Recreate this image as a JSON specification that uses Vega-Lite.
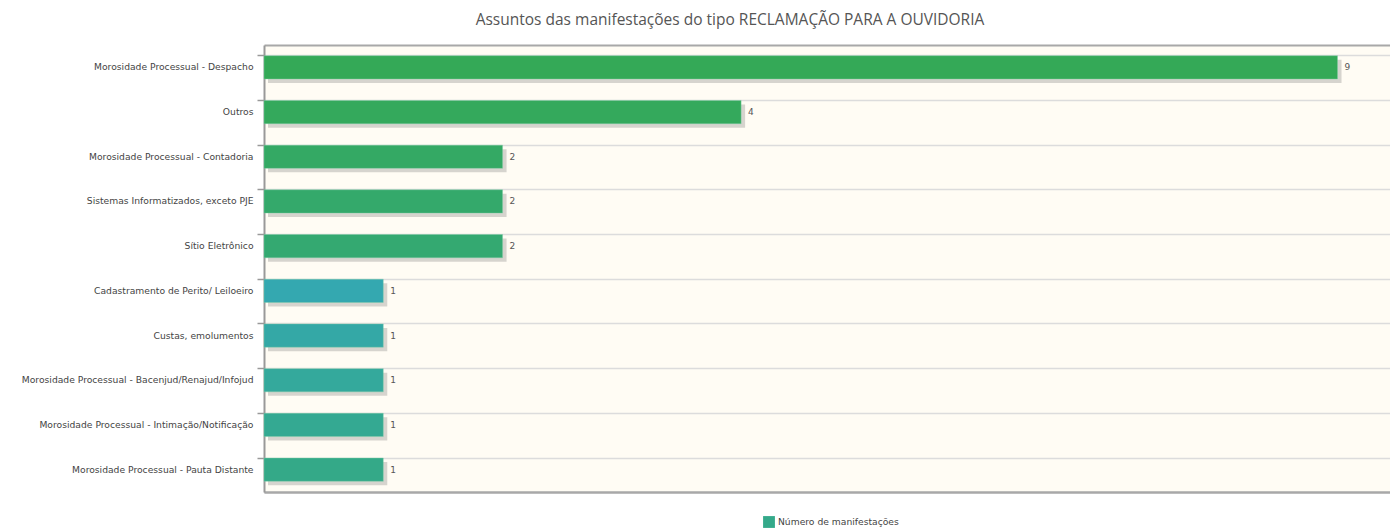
{
  "$schema": "https://vega.github.io/schema/vega-lite/v6.json",
  "autosize": {"type": "none"},
  "width": 1126,
  "height": 447,
  "padding": {"left": 264, "top": 45, "right": 0, "bottom": 37},
  "background": "#ffffff",
  "title": {
    "text": "Assuntos das manifestações do tipo RECLAMAÇÃO PARA A OUVIDORIA",
    "font": "Open Sans",
    "fontSize": 15.5,
    "fontWeight": "normal",
    "color": "#555555",
    "anchor": "middle",
    "dx": -97,
    "offset": 17
  },
  "config": {
    "view": {"fill": "#fffcf4", "stroke": null}
  },
  "data": {
    "values": [
      {"assunto": "Morosidade Processual - Despacho", "n": 9, "serie": "Número de manifestações"},
      {"assunto": "Outros", "n": 4, "serie": "Número de manifestações"},
      {"assunto": "Morosidade Processual - Contadoria", "n": 2, "serie": "Número de manifestações"},
      {"assunto": "Sistemas Informatizados, exceto PJE", "n": 2, "serie": "Número de manifestações"},
      {"assunto": "Sítio Eletrônico", "n": 2, "serie": "Número de manifestações"},
      {"assunto": "Cadastramento de Perito/ Leiloeiro", "n": 1, "serie": "Número de manifestações"},
      {"assunto": "Custas, emolumentos", "n": 1, "serie": "Número de manifestações"},
      {"assunto": "Morosidade Processual - Bacenjud/Renajud/Infojud", "n": 1, "serie": "Número de manifestações"},
      {"assunto": "Morosidade Processual - Intimação/Notificação", "n": 1, "serie": "Número de manifestações"},
      {"assunto": "Morosidade Processual - Pauta Distante", "n": 1, "serie": "Número de manifestações"}
    ]
  },
  "encoding": {
    "y": {
      "field": "assunto",
      "type": "nominal",
      "sort": null,
      "scale": {"paddingInner": 0.48, "paddingOuter": 0.24},
      "axis": {
        "title": null,
        "bandPosition": 0,
        "grid": true,
        "gridColor": "#dcdcdc",
        "gridWidth": 1.5,
        "domainColor": "#999999",
        "domainWidth": 2,
        "tickColor": "#999999",
        "tickSize": 7,
        "tickWidth": 1.5,
        "labelFont": "DejaVu Sans",
        "labelFontSize": 9.2,
        "labelColor": "#444444",
        "labelPadding": 4,
        "labelLimit": 300
      }
    },
    "x": {
      "field": "n",
      "type": "quantitative",
      "scale": {"domain": [0, 9.44], "nice": false},
      "axis": {"orient": "bottom", "title": null, "labels": false, "ticks": false, "grid": false, "domainColor": "#a8a8a8", "domainWidth": 2}
    }
  },
  "layer": [
    {
      "mark": {"type": "bar", "color": "#777777", "opacity": 0.3, "xOffset": 4, "yOffset": 4}
    },
    {
      "mark": {"type": "bar", "strokeWidth": 0.8, "strokeOpacity": 0.5},
      "encoding": {
        "x": {
          "field": "n",
          "type": "quantitative",
          "scale": {"domain": [0, 9.44], "nice": false},
          "axis": {"orient": "top", "title": null, "labels": false, "ticks": false, "grid": false, "domainColor": "#a8a8a8", "domainWidth": 2}
        },
        "fill": {
          "field": "assunto",
          "type": "nominal",
          "scale": {
            "domain": [
              "Morosidade Processual - Despacho",
              "Outros",
              "Morosidade Processual - Contadoria",
              "Sistemas Informatizados, exceto PJE",
              "Sítio Eletrônico",
              "Cadastramento de Perito/ Leiloeiro",
              "Custas, emolumentos",
              "Morosidade Processual - Bacenjud/Renajud/Infojud",
              "Morosidade Processual - Intimação/Notificação",
              "Morosidade Processual - Pauta Distante"
            ],
            "range": ["#34a957", "#34a95c", "#34a964", "#34a96b", "#34a971", "#34a8b0", "#34a8a6", "#34a99c", "#34a992", "#34a988"]
          },
          "legend": null
        },
        "stroke": {
          "field": "serie",
          "type": "nominal",
          "scale": {"range": ["#7fd0a8"]},
          "legend": {
            "title": null,
            "orient": "none",
            "legendX": 499,
            "legendY": 471,
            "symbolType": "square",
            "symbolFillColor": "#34a98a",
            "symbolStrokeColor": "#34a98a",
            "symbolSize": 140,
            "symbolStrokeWidth": 0,
            "labelFont": "DejaVu Sans",
            "labelFontSize": 9.2,
            "labelColor": "#444444",
            "labelOffset": 3
          }
        }
      }
    },
    {
      "mark": {"type": "text", "align": "left", "dx": 7, "font": "DejaVu Sans", "fontSize": 9, "color": "#555555"},
      "encoding": {"text": {"field": "n", "type": "quantitative"}}
    }
  ],
  "resolve": {"axis": {"x": "independent"}}
}
